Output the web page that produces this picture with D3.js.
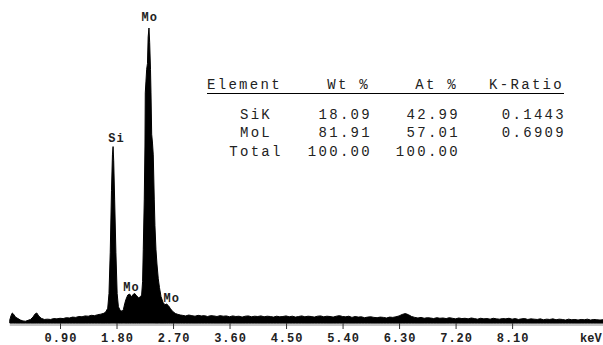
<!DOCTYPE html>
<html>
<head>
<meta charset="utf-8">
<script src="https://cdn.jsdelivr.net/npm/d3@7"></script>
<style>
body { margin: 0; background: #fff; }
svg { display: block; background: #fff; }
.tick text { font-family: "Liberation Mono", monospace; font-weight: bold; font-size: 12px; letter-spacing: 1px; fill: #222; }
.kev { font-family: "Liberation Mono", monospace; font-weight: bold; font-size: 12px; letter-spacing: 0px; fill: #222; }
.peak { font-family: "Liberation Mono", monospace; font-weight: bold; font-size: 12px; letter-spacing: 1px; fill: #222; }
.tbl { font-family: "Liberation Mono", monospace; font-size: 14px; letter-spacing: 2.3px; fill: #222; }
</style>
</head>
<body>
<svg id="chart" width="603" height="345"></svg>
<script>

// DATA ------------------------------------------------------------

// spectrum: [energy keV, counts as % of the Mo peak]
var spectrum = [
  [0.10, 1.0], [0.12, 2.5], [0.14, 3.4], [0.16, 3.0], [0.19, 2.0], [0.23, 1.5],
  [0.27, 1.0], [0.31, 0.7], [0.35, 0.6], [0.39, 0.9], [0.43, 1.2], [0.47, 2.0],
  [0.50, 3.0], [0.53, 3.4], [0.56, 2.4], [0.60, 1.6], [0.65, 1.2], [0.70, 1.3],
  [0.75, 1.2], [0.80, 1.5], [0.85, 1.4], [0.90, 1.6], [0.95, 1.5], [1.00, 1.8],
  [1.05, 1.7], [1.10, 2.0], [1.15, 1.9], [1.20, 2.2], [1.25, 2.1], [1.30, 2.4],
  [1.35, 2.3], [1.40, 2.6], [1.45, 2.5], [1.50, 2.8], [1.55, 3.0], [1.60, 3.3],
  [1.63, 3.8], [1.66, 5.0], [1.68, 10], [1.70, 24], [1.72, 45], [1.735, 57],
  [1.745, 59.8], [1.755, 55], [1.77, 42], [1.79, 24], [1.81, 10], [1.83, 5.5],
  [1.86, 4.2], [1.89, 4.0], [1.91, 4.6], [1.93, 6.5], [1.95, 8.0], [1.98, 9.5],
  [2.01, 9.8], [2.04, 8.8], [2.06, 9.6], [2.09, 10], [2.12, 9.2], [2.15, 8.6],
  [2.18, 8.8], [2.20, 9.5], [2.215, 14], [2.226, 25], [2.242, 42], [2.253, 60],
  [2.258, 78], [2.269, 82], [2.28, 86], [2.293, 88], [2.304, 97], [2.317, 100],
  [2.328, 95], [2.341, 86], [2.349, 78], [2.36, 64], [2.373, 61], [2.385, 57],
  [2.401, 42], [2.412, 33], [2.428, 25], [2.444, 20], [2.465, 15], [2.484, 12],
  [2.508, 9.0], [2.54, 7.0], [2.57, 6.2], [2.60, 6.4], [2.63, 5.8], [2.66, 4.8],
  [2.70, 3.8], [2.74, 3.2], [2.78, 2.9], [2.82, 2.7], [2.85, 2.6], [2.90, 2.4],
  [2.95, 2.7], [3.00, 2.5], [3.05, 2.3], [3.10, 2.6], [3.15, 2.4], [3.20, 2.5],
  [3.25, 2.2], [3.30, 2.5], [3.35, 2.4], [3.40, 2.2], [3.45, 2.5], [3.50, 2.3],
  [3.55, 2.4], [3.60, 2.1], [3.65, 2.4], [3.70, 2.2], [3.75, 2.3], [3.80, 2.0],
  [3.85, 2.3], [3.90, 2.4], [3.95, 2.1], [4.00, 2.3], [4.05, 2.2], [4.10, 2.4],
  [4.15, 2.1], [4.20, 2.3], [4.25, 2.2], [4.30, 2.0], [4.35, 2.3], [4.40, 2.1],
  [4.45, 2.2], [4.50, 2.4], [4.55, 2.1], [4.60, 2.3], [4.65, 2.0], [4.70, 2.2],
  [4.75, 2.4], [4.80, 2.1], [4.85, 2.3], [4.90, 2.2], [4.95, 2.0], [5.00, 2.3],
  [5.05, 2.4], [5.10, 2.1], [5.15, 2.3], [5.20, 2.2], [5.25, 2.0], [5.30, 2.3],
  [5.35, 2.5], [5.40, 2.2], [5.45, 2.1], [5.50, 2.3], [5.55, 1.9], [5.60, 2.2],
  [5.65, 2.0], [5.70, 2.1], [5.75, 1.8], [5.80, 2.0], [5.85, 2.1], [5.90, 1.9],
  [5.95, 1.8], [6.00, 2.0], [6.05, 1.9], [6.10, 1.7], [6.15, 2.0], [6.20, 1.9],
  [6.25, 2.1], [6.30, 2.4], [6.35, 2.9], [6.40, 3.2], [6.45, 2.8], [6.50, 2.2],
  [6.55, 1.9], [6.60, 1.7], [6.65, 1.9], [6.70, 1.6], [6.75, 1.8], [6.80, 1.7],
  [6.85, 1.5], [6.90, 1.8], [6.95, 1.6], [7.00, 1.7], [7.05, 1.5], [7.10, 1.8],
  [7.15, 1.6], [7.20, 1.4], [7.25, 1.7], [7.30, 1.5], [7.35, 1.6], [7.40, 1.4],
  [7.45, 1.7], [7.50, 1.5], [7.55, 1.3], [7.60, 1.6], [7.65, 1.4], [7.70, 1.5],
  [7.75, 1.3], [7.80, 1.6], [7.85, 1.4], [7.90, 1.3], [7.95, 1.5], [8.00, 1.4],
  [8.05, 1.6], [8.10, 1.3], [8.15, 1.5], [8.20, 1.2], [8.25, 1.4], [8.30, 1.5],
  [8.35, 1.2], [8.40, 1.4], [8.45, 1.3], [8.50, 1.2], [8.55, 1.4], [8.60, 1.1],
  [8.65, 1.3], [8.70, 1.2], [8.75, 1.4], [8.80, 1.1], [8.85, 1.3], [8.90, 1.2],
  [8.95, 1.0], [9.00, 1.3], [9.05, 1.1], [9.10, 1.2], [9.15, 1.0], [9.20, 1.2],
  [9.25, 1.1], [9.30, 1.3], [9.35, 1.0], [9.40, 1.2], [9.45, 1.1], [9.50, 1.0],
  [9.55, 1.1]
];

var tickValues = [0.90, 1.80, 2.70, 3.60, 4.50, 5.40, 6.30, 7.20, 8.10];

// peak labels: [text, energy, counts]
var peakLabels = [
  ["Mo", 2.32, 102.3],
  ["Si", 1.79, 61.2],
  ["Mo", 2.03, 10.8],
  ["Mo", 2.67, 7.1]
];

var tableHeader = ["Element", "Wt %", "At %", "K-Ratio"];
var tableElements = ["SiK", "MoL", "Total"];
var wtPct = ["18.09", "81.91", "100.00"];
var atPct = ["42.99", "57.01", "100.00"];
var kRatio = ["0.1443", "0.6909", ""];

// SETUP -----------------------------------------------------------

var W = 603, H = 345;
var base = 323;

var x = d3.scaleLinear().domain([0, 9.5]).range([3.5, 600]);
var y = d3.scaleLinear().domain([0, 100]).range([base, 28]);

var svg = d3.select("#chart");

// gray strip under the spectrum
svg.append("rect")
  .attr("x", x(0.1)).attr("y", base)
  .attr("width", W - x(0.1)).attr("height", 3)
  .attr("fill", "#c4c4c4");

// spectrum
var area = d3.area()
  .x(function(d){ return x(d[0]); })
  .y0(base)
  .y1(function(d){ return y(d[1]); });

svg.append("path")
  .datum(spectrum)
  .attr("d", area)
  .attr("fill", "#000")
  .attr("stroke", "#000")
  .attr("stroke-width", 1);

// axis
var axis = svg.append("g")
  .attr("transform", "translate(0," + base + ")")
  .call(d3.axisBottom(x).tickValues(tickValues).tickFormat(d3.format(".2f")).tickSize(6));

axis.select(".domain").remove();
axis.selectAll(".tick line").attr("stroke", "#333");
axis.selectAll(".tick text").attr("y", 18.5).attr("dy", 0).attr("dx", 0.5);

svg.append("text").attr("class", "kev")
  .attr("x", 580).attr("y", 341.5).text("keV");

// peak labels
svg.selectAll(".peak").data(peakLabels).enter()
  .append("text").attr("class", "peak")
  .attr("text-anchor", "middle")
  .attr("x", function(d){ return x(d[1]) + 0.5; })
  .attr("y", function(d){ return y(d[2]); })
  .text(function(d){ return d[0]; });

// TABLE -----------------------------------------------------------

var hdrY = 88.5, rowY = [118.5, 137.2, 155.8];

svg.append("text").attr("class", "tbl").attr("x", 207).attr("y", hdrY).text(tableHeader[0]);
var colEnds = [370, 458, 564];
[1, 2, 3].forEach(function(c){
  svg.append("text").attr("class", "tbl").attr("text-anchor", "end")
    .attr("x", colEnds[c - 1]).attr("y", hdrY).text(tableHeader[c]);
});

svg.append("line")
  .attr("x1", 207).attr("x2", 564)
  .attr("y1", 93.5).attr("y2", 93.5)
  .attr("stroke", "#000").attr("stroke-width", 1);

tableElements.forEach(function(el, i){
  svg.append("text").attr("class", "tbl").attr("text-anchor", "middle")
    .attr("x", 256).attr("y", rowY[i]).text(el);
  [wtPct, atPct, kRatio].forEach(function(col, c){
    svg.append("text").attr("class", "tbl").attr("text-anchor", "end")
      .attr("x", colEnds[c] + 2).attr("y", rowY[i]).text(col[i]);
  });
});

</script>
</body>
</html>
